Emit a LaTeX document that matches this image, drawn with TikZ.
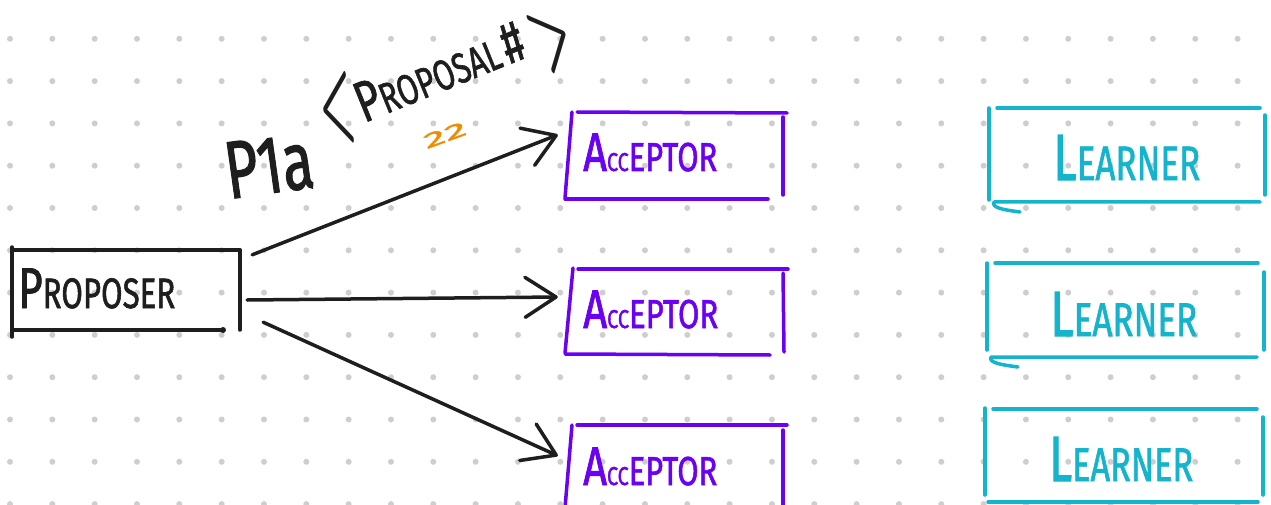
\documentclass[tikz,border=0pt]{standalone}
\usepackage{fontspec}
\setmainfont{Fira Sans}
\newfontfamily\hwfont[FakeBold=1.6]{Fira Sans}
\usepackage{graphicx}
\usetikzlibrary{arrows.meta,calc}
\definecolor{ink}{HTML}{1E1E1E}
\definecolor{vio}{HTML}{6A00F4}
\definecolor{cya}{HTML}{14B4CC}
\definecolor{org}{HTML}{F08C00}
\definecolor{dotc}{HTML}{CECECE}
\newcommand{\hwbox}[3]{\resizebox*{#1pt}{#2pt}{#3}}
\newcommand{\BigLet}[1]{{\fontsize{13.5}{14}\selectfont #1}}
\newcommand{\SmLet}[1]{{\fontsize{6.4}{7}\selectfont #1}}
\tikzset{
  sketch/.style={line width=3.5pt, line cap=round, line join=round},
  conn/.style={sketch, draw=ink, -{Straight Barb[round, length=31pt, width=40pt]}},
  hw/.style={inner sep=0pt, anchor=base west, font=\hwfont},
  brk/.style={inner sep=0pt, ink}
}
\tikzset{boxn/.style={inner sep=0pt, draw=none, rectangle}}
\begin{document}
\begin{tikzpicture}[x=1pt,y=-1pt]
\fill[white] (0,0) rectangle (1271,505);
\useasboundingbox (0,0) rectangle (1271,505);
% dot grid
\foreach \i in {0,...,29}{
  \foreach \j in {0,...,11}{
    \fill[dotc] ({10+42.33*\i},{38.8+42.3*\j}) circle (3pt);
  }
}
% box nodes
\node[boxn, minimum width=228pt, minimum height=80pt] (prop) at (126,290) {};
\node[boxn, minimum width=216pt, minimum height=86pt] (acc1) at (675,156) {};
\node[boxn, minimum width=216pt, minimum height=86pt] (acc2) at (676,311) {};
\node[boxn, minimum width=216pt, minimum height=86pt] (acc3) at (676,468) {};
\node[boxn, minimum width=276pt, minimum height=94pt] (lrn1) at (1127,155) {};
\node[boxn, minimum width=277pt, minimum height=94pt] (lrn2) at (1125.5,310) {};
\node[boxn, minimum width=278pt, minimum height=93pt] (lrn3) at (1124,455.5) {};
% proposer outline
\draw[sketch, ink] (12,247) -- (12,337);
\draw[sketch, ink] (12,250) -- (240,250);
\draw[sketch, ink] (240,250) -- (240,330);
\draw[sketch, ink] (12,330) -- (223,330);
\fill[ink] (223,330) circle (3pt);
% acceptor outlines
\draw[sketch, vio] (572,112) -- (565,198);
\draw[sketch, vio] (577,112) -- (787,113);
\draw[sketch, vio] (783,117) -- (783,195);
\draw[sketch, vio] (565,199) -- (768,199);
\draw[sketch, vio] (573,268) -- (565,353);
\draw[sketch, vio] (578,269) -- (788,269);
\draw[sketch, vio] (783,273) -- (784,352);
\draw[sketch, vio] (565,354) -- (770,355);
\draw[sketch, vio] (572,425) -- (565,508);
\draw[sketch, vio] (577,425) -- (787,425);
\draw[sketch, vio] (783,430) -- (783,508);
% learner outlines
\draw[sketch, cya] (989,108) -- (989,200);
\draw[sketch, cya] (997,108) -- (1260,108);
\draw[sketch, cya] (1265,115) -- (1265,195);
\draw[sketch, cya] (1260,202) -- (994,202) .. controls (991,208) and (1005,210) .. (1020,212);
\draw[sketch, cya] (987,263) -- (987,350);
\draw[sketch, cya] (995,263) -- (1258,263);
\draw[sketch, cya] (1264,272) -- (1264,350);
\draw[sketch, cya] (1257,357) -- (991,357) .. controls (988,363) and (1003,365) .. (1018,367);
\draw[sketch, cya] (985,408) -- (985,495);
\draw[sketch, cya] (993,409) -- (1257,409);
\draw[sketch, cya] (1263,417) -- (1263,495);
\draw[sketch, cya] (1258,502) -- (988,502);
% texts
\node[hw, ink] (propt) at (18,308) {\hwbox{157}{40}{\BigLet{P}ROPOSER}};
\node[hw, vio] (acc1t) at (583,171) {\hwbox{134}{38}{\BigLet{A}\SmLet{CC}EPTOR}};
\node[hw, vio] (acc2t) at (583,328) {\hwbox{135}{38}{\BigLet{A}\SmLet{CC}EPTOR}};
\node[hw, vio] (acc3t) at (583,485) {\hwbox{134}{38}{\BigLet{A}\SmLet{CC}EPTOR}};
\node[hw, cya] (lrn1t) at (1053,180) {\hwbox{147}{45}{\BigLet{L}EARNER}};
\node[hw, cya] (lrn2t) at (1050,336) {\hwbox{147}{44}{\BigLet{L}EARNER}};
\node[hw, cya] (lrn3t) at (1049,481) {\hwbox{144}{44}{\BigLet{L}EARNER}};
% label
\node[hw, ink, rotate=8] (p1a) at (229,199) {\hwbox{88}{57}{P1a}};
\node[brk, rotate=7] (lt) at (337,109) {\hwbox{34}{72}{\boldmath$<$}};
\node[hw, ink, rotate=22] (pnum) at (364,123) {\hwbox{178}{40}{\BigLet{P}ROPOSAL\,\BigLet{\#}}};
\node[brk, rotate=25] (gt) at (553,39) {\hwbox{36}{64}{\boldmath$>$}};
\node[inner sep=0pt, org, rotate=20, font=\hwfont] (n22) at (445,135) {\hwbox{44}{14}{22}};
% connectors
\draw[conn] ([shift={(12,5)}]prop.north east) -- ([shift={(-9,22)}]acc1.north west);
\draw[conn] ([shift={(7,10)}]prop.east) -- ([shift={(-10,-14)}]acc2.west);
\draw[conn] ([shift={(23,-8)}]prop.south east) -- ([shift={(-10,31)}]acc3.north west);
\end{tikzpicture}
\end{document}
